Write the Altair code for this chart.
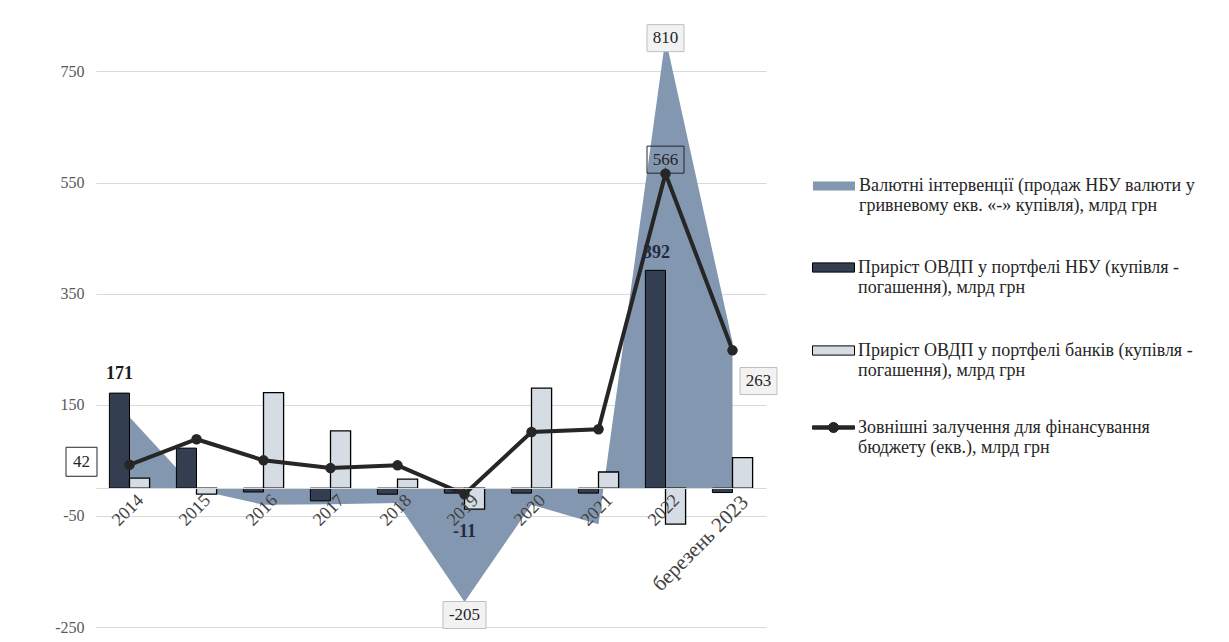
import altair as alt
import pandas as pd

# ---- data ----
categories = ["2014", "2015", "2016", "2017", "2018", "2019", "2020", "2021", "2022", "березень 2023"]
interventions = [128, -3, -30, -29, -27, -205, -30, -65, 810, 263]   # area
nbu_ovdp = [171, 72, -7, -23, -11, -9, -9, -9, 392, -8]               # dark bars
bank_ovdp = [18, -11, 172, 103, 16, -38, 180, 29, -65, 55]            # light bars
external = [42, 88, 50, 36, 41, -11, 101, 106, 566, 248]              # line
series_names = [
    "Валютні інтервенції (продаж НБУ валюти у\nгривневому екв. «-» купівля), млрд грн",
    "Приріст ОВДП у портфелі НБУ (купівля -\nпогашення),  млрд грн",
    "Приріст ОВДП у портфелі банків (купівля -\nпогашення),  млрд грн",
    "Зовнішні залучення для фінансування\nбюджету (екв.), млрд грн",
]
y_ticks = [-250, -50, 150, 350, 550, 750]

FONT = "Liberation Serif"
AREA_C = "#8497b0"
DARK_C = "#333f50"
LIGHT_C = "#d6dce4"
LINE_C = "#262626"

y_scale = alt.Scale(domain=[-250, 830], nice=False, zero=False)
x_scale = alt.Scale(type="band", domain=categories, paddingInner=0.4, paddingOuter=0.2)

x_axis = alt.Axis(title=None, labelAngle=-45, ticks=False, domain=True, domainColor="#d9d9d9",
                  domainWidth=1, offset=-139, labelFont=FONT,
                  labelFontSize={"condition": {"test": f"datum.value == '{categories[-1]}'",
                                               "value": 21}, "value": 18},
                  labelColor="#404040", labelPadding=3, labelOffset=5, zindex=1, grid=False,
                  labelOverlap=False, labelLimit=300)
y_axis = alt.Axis(title=None, values=y_ticks, grid=True, gridColor="#d9d9d9", domain=False,
                  ticks=False, labelFont=FONT, labelFontSize=16, labelColor="#595959",
                  labelPadding=12, labelExpr="'' + datum.value")


def xc():
    return alt.X("category:N", scale=x_scale, axis=x_axis, bandPosition=0.5)


def xb():
    return alt.X("category:N", scale=x_scale, axis=x_axis)


def yv():
    return alt.Y("value:Q", scale=y_scale, axis=y_axis)


RECT = "M-1,-0.22H1V0.22H-1Z"
LINE_PATH = ("M-1,-0.08H1V0.08H-1Z "
             "M0.24,0A0.24,0.24,0,1,1,-0.24,0A0.24,0.24,0,1,1,0.24,0Z")


def legend(y, path, stroke=None, sw=0, fill=None):
    kw = dict(orient="none", legendX=716, legendY=y, title=None, symbolType=path,
              symbolSize=1764, labelFont=FONT, labelFontSize=18, labelColor="#262626",
              labelLimit=600, labelExpr="split(datum.label, '\\n')", padding=0,
              symbolOpacity=1, labelOffset=3)
    if stroke:
        kw.update(symbolStrokeColor=stroke, symbolStrokeWidth=sw)
    if fill:
        kw["symbolFillColor"] = fill
    return alt.Legend(**kw)


def frame(values, name):
    return pd.DataFrame({"category": categories, "value": values, "series": name})


area = alt.Chart(frame(interventions, series_names[0])).mark_area(opacity=1).encode(
    x=xc(), y=yv(),
    fill=alt.Fill("series:N", scale=alt.Scale(domain=[series_names[0]], range=[AREA_C]),
                  legend=legend(137, RECT)),
)

off = alt.XOffset("series:N", scale=alt.Scale(domain=series_names[1:3], paddingInner=0,
                                              paddingOuter=0))

bars_nbu = alt.Chart(frame(nbu_ovdp, series_names[1])).mark_bar(
    stroke="black", strokeWidth=1).encode(
    x=xb(), y=yv(), xOffset=off,
    fill=alt.Fill("series:N", scale=alt.Scale(domain=[series_names[1]], range=[DARK_C]),
                  legend=legend(219, RECT, "black", 1)),
)

bars_bank = alt.Chart(frame(bank_ovdp, series_names[2])).mark_bar(
    stroke="black", strokeWidth=1.3).encode(
    x=xb(), y=yv(), xOffset=off,
    fill=alt.Fill("series:N", scale=alt.Scale(domain=[series_names[2]], range=[LIGHT_C]),
                  legend=legend(302, RECT, "black", 1)),
)

line = alt.Chart(frame(external, series_names[3])).mark_line(strokeWidth=4).encode(
    x=xc(), y=yv(),
    stroke=alt.Stroke("series:N", scale=alt.Scale(domain=[series_names[3]], range=[LINE_C]),
                      legend=legend(379, LINE_PATH, LINE_C, 1, LINE_C)),
)
points = alt.Chart(frame(external, series_names[3])).mark_circle(
    size=110, color=LINE_C, opacity=1).encode(x=xc(), y=yv())


def box_label(i, values, dx, dy, fill, stroke, w=37, h=27, size=17):
    d = pd.DataFrame({"category": [categories[i]], "value": [values[i]],
                      "label": [str(values[i])]})
    base = alt.Chart(d).encode(x=xc(), y=yv())
    shape = f"M{-w / h:.3f},-1H{w / h:.3f}V1H{-w / h:.3f}Z"
    box = base.mark_point(shape=shape, size=h * h, filled=True, fill=fill, stroke=stroke,
                          strokeWidth=1, opacity=1, xOffset=dx, yOffset=dy)
    txt = base.mark_text(dx=dx, dy=dy, font=FONT, fontSize=size, color="#262626",
                         baseline="middle").encode(text="label:N")
    return box + txt


def bold_label(i, values, dx, dy, color):
    d = pd.DataFrame({"category": [categories[i]], "value": [values[i]],
                      "label": [str(values[i])]})
    return alt.Chart(d).mark_text(dx=dx, dy=dy, font=FONT, fontSize=18, fontWeight="bold",
                                  color=color, baseline="middle").encode(
        x=xc(), y=yv(), text="label:N")


labels = [
    box_label(8, interventions, 0, 0, "#f2f2f2", "#bfbfbf"),
    box_label(5, interventions, 0, 13, "#f2f2f2", "#bfbfbf", w=43),
    box_label(9, interventions, 26, 39, "#f2f2f2", "#bfbfbf"),
    box_label(8, external, 0, -14, "none", "#262626"),
    box_label(0, external, -48, -3, "white", "#262626", w=31, h=29),
    bold_label(0, nbu_ovdp, -10, -19, "#1a1a1a"),
    bold_label(8, nbu_ovdp, -9, -17, "#1f2a44"),
    bold_label(5, external, 0, 38, "#1f2a44"),
]

chart = alt.layer(area, bars_nbu, bars_bank, line, points, *labels).resolve_scale(
    fill="independent", stroke="independent"
).properties(
    width=670, height=600,
    autosize=alt.AutoSizeParams(type="none"),
    padding={"left": 96, "top": 27, "right": 463, "bottom": 15},
    background="white",
).configure_view(stroke=None)

chart.save("out.html", embed_options={"renderer": "svg", "actions": False})
